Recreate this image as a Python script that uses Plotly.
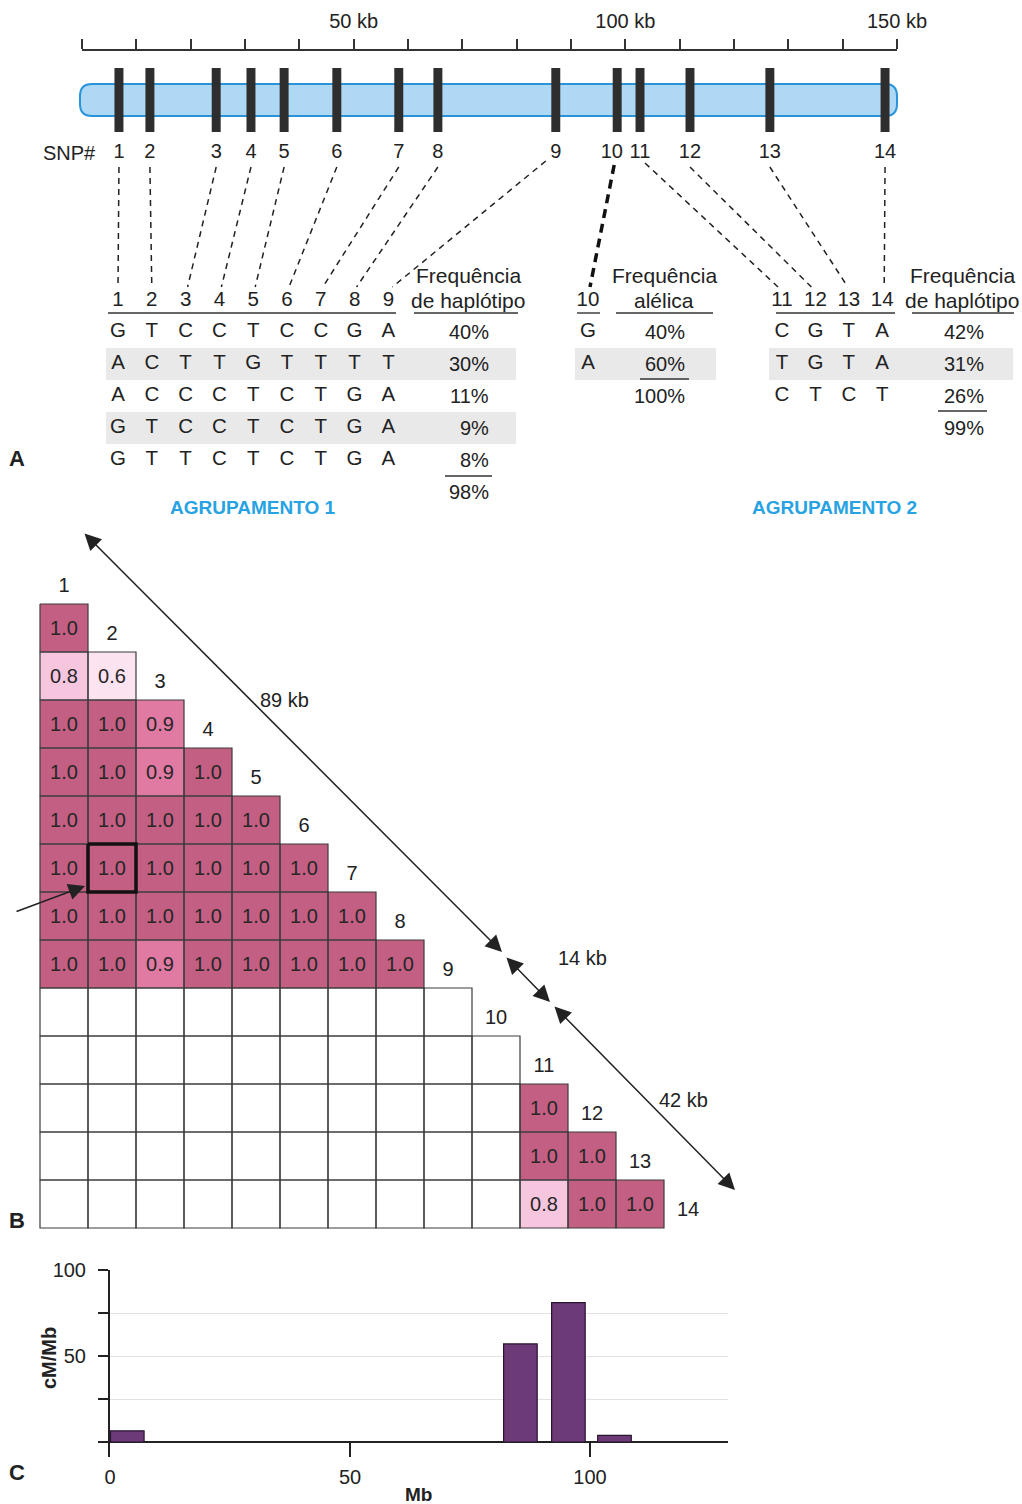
import plotly.graph_objects as go

W, H = 1022, 1504
FONT = "Liberation Sans, Arial, Helvetica, sans-serif"
TXT = "#222222"

# ---------------- data ----------------
snp_ids = list(range(1, 15))
snp_kb = [6.8, 12.5, 24.7, 31.1, 37.2, 46.9, 58.3, 65.5, 87.2, 98.5, 102.7, 111.9, 126.6, 147.8]
scale_ticks_kb = list(range(0, 151, 10))
scale_labels = {50: "50 kb", 100: "100 kb", 150: "150 kb"}

block1_snps = [1, 2, 3, 4, 5, 6, 7, 8, 9]
block1_haplotypes = ["GTCCTCCGA", "ACTTGTTTT", "ACCCTCTGA", "GTCCTCTGA", "GTTCTCTGA"]
block1_freqs = ["40%", "30%", "11%", "9%", "8%"]
block1_total = "98%"

snp10_alleles = ["G", "A"]
snp10_freqs = ["40%", "60%"]
snp10_total = "100%"

block2_snps = [11, 12, 13, 14]
block2_haplotypes = ["CGTA", "TGTA", "CTCT"]
block2_freqs = ["42%", "31%", "26%"]
block2_total = "99%"

# LD (D') values: row for SNP j = 2..14, columns SNP 1..j-1 (None = not shown)
ld_values = [
    [1.0],
    [0.8, 0.6],
    [1.0, 1.0, 0.9],
    [1.0, 1.0, 0.9, 1.0],
    [1.0, 1.0, 1.0, 1.0, 1.0],
    [1.0, 1.0, 1.0, 1.0, 1.0, 1.0],
    [1.0, 1.0, 1.0, 1.0, 1.0, 1.0, 1.0],
    [1.0, 1.0, 0.9, 1.0, 1.0, 1.0, 1.0, 1.0],
    [None] * 9,
    [None] * 10,
    [None] * 10 + [1.0],
    [None] * 10 + [1.0, 1.0],
    [None] * 10 + [0.8, 1.0, 1.0],
]
highlight_cell = (2, 7)
span_labels = ["89 kb", "14 kb", "42 kb"]

rec_mb = [3.6, 85.5, 95.5, 105.1]
rec_cm_mb = [6.5, 57, 81, 3.8]
rec_ticks_x = [0, 50, 100]
rec_ticks_y = [0, 25, 50, 75, 100]
rec_ticklabels_y = ["", "", "50", "", "100"]

# ---------------- helpers ----------------
def kb_px(k):
    return 82 + k * 815 / 150


fig = go.Figure()
annots = []


def txt(x, y, s, size=20, color=TXT, bold=False, xanchor="center", angle=0):
    annots.append(dict(x=x, y=y, xref="x", yref="y", text=("<b>%s</b>" % s) if bold else s,
                       showarrow=False, xanchor=xanchor, yanchor="middle", textangle=angle,
                       font=dict(size=size, color=color, family=FONT)))


ulx, uly = [], []


def uline(x0, x1, y):
    ulx.extend([x0, x1, None])
    uly.extend([y, y, None])


shapes = []
# grey bands
for (x0, x1, y0, y1) in [(106, 516, 348, 380), (106, 516, 412, 444), (575, 716, 348, 380), (769, 1013, 348, 380)]:
    shapes.append(dict(type="rect", xref="x", yref="y", x0=x0, x1=x1, y0=y0, y1=y1,
                       fillcolor="#e9e9e9", line=dict(width=0), layer="below"))

# chromosome
cx0, cx1, cy0, cy1, r = kb_px(0) - 2, kb_px(150), 84, 116, 12
path = (f"M {cx0+r},{cy0} L {cx1-r},{cy0} Q {cx1},{cy0} {cx1},{cy0+r} L {cx1},{cy1-r} "
        f"Q {cx1},{cy1} {cx1-r},{cy1} L {cx0+r},{cy1} Q {cx0},{cy1} {cx0},{cy1-r} "
        f"L {cx0},{cy0+r} Q {cx0},{cy0} {cx0+r},{cy0} Z")
shapes.append(dict(type="path", xref="x", yref="y", path=path, fillcolor="#aed8f4",
                   line=dict(color="#2a94db", width=2), layer="below"))

# pixel-axis dummy trace so the xy subplot exists
fig.add_trace(go.Scatter(x=[0, W], y=[0, H], mode="markers", marker=dict(opacity=0),
                         hoverinfo="skip", showlegend=False, xaxis="x", yaxis="y"))

# SNP bars on the kb axis
fig.add_trace(go.Bar(x=snp_kb, y=[64] * len(snp_kb), base=[68] * len(snp_kb), width=1.65,
                     marker=dict(color="#2e2e2e", line=dict(width=0)), showlegend=False,
                     hoverinfo="skip", xaxis="x2", yaxis="y"))
label_kb = [k - (1.0 if s == 10 else 0) for s, k in zip(snp_ids, snp_kb)]
fig.add_trace(go.Scatter(x=label_kb, y=[153] * len(snp_kb), mode="text", text=[str(i) for i in snp_ids],
                         textfont=dict(size=20, color=TXT, family=FONT), showlegend=False,
                         hoverinfo="skip", xaxis="x2", yaxis="y", cliponaxis=False))
txt(98, 153, "SNP#", xanchor="right")

# ---------- block 1 table ----------
b1_x = [118 + 33.8 * i for i in range(len(block1_snps))]
row_y = [332, 364, 396, 428, 460]
hx, hy, ht = [], [], []
for i, s in enumerate(block1_snps):
    hx.append(b1_x[i]); hy.append(301); ht.append(str(s))
for r, hap in enumerate(block1_haplotypes):
    for i, ch in enumerate(hap):
        hx.append(b1_x[i]); hy.append(row_y[r]); ht.append(ch)
# snp 10
hx.append(588); hy.append(301); ht.append("10")
for r, a in enumerate(snp10_alleles):
    hx.append(588); hy.append(row_y[r]); ht.append(a)
# block 2
b2_x = [782 + 33.4 * i for i in range(len(block2_snps))]
for i, s in enumerate(block2_snps):
    hx.append(b2_x[i]); hy.append(301); ht.append(str(s))
for r, hap in enumerate(block2_haplotypes):
    for i, ch in enumerate(hap):
        hx.append(b2_x[i]); hy.append(row_y[r]); ht.append(ch)
fig.add_trace(go.Scatter(x=hx, y=hy, mode="text", text=ht, textfont=dict(size=20.5, color=TXT, family=FONT),
                         showlegend=False, hoverinfo="skip", xaxis="x", yaxis="y"))

# frequency columns
txt(468, 275, "Frequência", size=21); txt(468, 300, "de haplótipo", size=21)
for r, f in enumerate(block1_freqs):
    txt(491, row_y[r], f, xanchor="right")
txt(491, 492, block1_total, xanchor="right")
uline(108, 396, 313); uline(414, 518, 313); uline(445, 492, 476)

txt(664, 275, "Frequência", size=21); txt(664, 300, "alélica", size=21)
for r, f in enumerate(snp10_freqs):
    txt(687, row_y[r], f, xanchor="right")
txt(687, 396, snp10_total, xanchor="right")
uline(577, 600, 313); uline(616, 713, 313); uline(640, 689, 379)

txt(962, 275, "Frequência", size=21); txt(962, 300, "de haplótipo", size=21)
for r, f in enumerate(block2_freqs):
    txt(986, row_y[r], f, xanchor="right")
txt(986, 428, block2_total, xanchor="right")
uline(776, 895, 313); uline(912, 1014, 313); uline(938, 987, 411)

fig.add_trace(go.Scatter(x=ulx, y=uly, mode="lines", line=dict(color="#333", width=1.4),
                         showlegend=False, hoverinfo="skip", xaxis="x", yaxis="y"))

# dashed connectors
end_x = {}
for i, s in enumerate(block1_snps):
    end_x[s] = b1_x[i] + (0 if s <= 2 else (4 if s == 9 else 2))
for i, s in enumerate(block2_snps):
    end_x[s] = b2_x[i] + [-4, -4, -1, 2][i]
dx, dy = [], []
for s, k in zip(snp_ids, snp_kb):
    if s == 10:
        continue
    x0 = kb_px(k)
    y0 = 167
    if s == 9:
        x0 -= 10; y0 = 161
    if s == 11:
        x0 += 5; y0 = 163
    dx.extend([x0, end_x[s], None]); dy.extend([y0, 287, None])
fig.add_trace(go.Scatter(x=dx, y=dy, mode="lines", line=dict(color="#222", width=1.5, dash="6px,5px"),
                         showlegend=False, hoverinfo="skip", xaxis="x", yaxis="y"))
fig.add_trace(go.Scatter(x=[kb_px(snp_kb[9]) - 3, 590], y=[165, 287], mode="lines",
                         line=dict(color="#111", width=3.5, dash="9px,6px"),
                         showlegend=False, hoverinfo="skip", xaxis="x", yaxis="y"))

txt(17, 458, "A", size=22, bold=True)
txt(252, 507, "AGRUPAMENTO 1", size=19, color="#27a2e3", bold=True)
txt(834, 507, "AGRUPAMENTO 2", size=19, color="#27a2e3", bold=True)

# ---------- panel B heatmap ----------
n = len(snp_ids)
z = [[None] * n for _ in range(n)]
tx = [[""] * n for _ in range(n)]
for jrow, vals in enumerate(ld_values):
    j = jrow + 2
    for c, v in enumerate(vals):
        z[j - 1][c] = v
        tx[j - 1][c] = "" if v is None else "%.1f" % v
fig.add_trace(go.Heatmap(x=snp_ids, y=snp_ids, z=z, text=tx, texttemplate="%{text}",
                         textfont=dict(size=20, color="#262626", family=FONT),
                         zmin=0.6, zmax=1.0, showscale=False, hoverinfo="skip",
                         colorscale=[[0, "#fbe3ef"], [0.5, "#f6c6df"], [0.75, "#e07aa3"], [1, "#c35f83"]],
                         xaxis="x3", yaxis="y3"))
gx, gy = [], []
for jrow, vals in enumerate(ld_values):
    j = jrow + 2
    for c in range(1, len(vals) + 1):
        gx.extend([c - .5, c + .5, c + .5, c - .5, c - .5, None])
        gy.extend([j - .5, j - .5, j + .5, j + .5, j - .5, None])
fig.add_trace(go.Scatter(x=gx, y=gy, mode="lines", line=dict(color="#3c3c3c", width=1.2),
                         showlegend=False, hoverinfo="skip", xaxis="x3", yaxis="y3"))
hc, hj = highlight_cell
fig.add_trace(go.Scatter(x=[hc - .5, hc + .5, hc + .5, hc - .5, hc - .5],
                         y=[hj - .5, hj - .5, hj + .5, hj + .5, hj - .5], mode="lines",
                         line=dict(color="#111", width=3.5), showlegend=False, hoverinfo="skip",
                         xaxis="x3", yaxis="y3"))
fig.add_trace(go.Scatter(x=snp_ids, y=[k + 0.15 for k in snp_ids], mode="text", text=[str(k) for k in snp_ids],
                         textfont=dict(size=20, color=TXT, family=FONT), showlegend=False,
                         hoverinfo="skip", xaxis="x3", yaxis="y3"))

# span arrows
for (x0, y0, x1, y1) in [(83, 532, 502, 952), (505, 956, 550, 1002), (553, 1005, 735, 1190)]:
    annots.append(dict(x=x1, y=y1, ax=x0, ay=y0, xref="x", yref="y", axref="x", ayref="y", text="",
                       showarrow=True, arrowhead=2, arrowside="end+start", arrowsize=2.2, arrowwidth=1.5,
                       arrowcolor="#222", standoff=0, startstandoff=0))
txt(284, 700, span_labels[0]); txt(556, 958, span_labels[1], xanchor="left"); txt(683, 1100, span_labels[2])
annots.append(dict(x=85, y=886, ax=15, ay=912, xref="x", yref="y", axref="x", ayref="y", text="",
                   showarrow=True, arrowhead=2, arrowsize=2.2, arrowwidth=1.5, arrowcolor="#222", standoff=0))
txt(17, 1220, "B", size=22, bold=True)

# ---------- panel C bars ----------
fig.add_trace(go.Bar(x=rec_mb, y=rec_cm_mb, width=7, marker=dict(color="#6c3a77", line=dict(color="#2a1430", width=1.2)),
                     showlegend=False, hoverinfo="skip", xaxis="x4", yaxis="y4"))
txt(49, 1358, "cM/Mb", size=20, bold=True, angle=-90)
txt(418, 1494, "Mb", size=19, bold=True)
txt(17, 1472, "C", size=22, bold=True)

hidden = dict(visible=False, fixedrange=True, automargin=False)
fig.update_layout(
    width=W, height=H, margin=dict(l=0, r=0, t=0, b=0, pad=0, autoexpand=False),
    paper_bgcolor="white", plot_bgcolor="rgba(0,0,0,0)", showlegend=False,
    font=dict(family=FONT, color=TXT),
    shapes=shapes, annotations=annots,
    xaxis=dict(range=[0, W], domain=[0, 1], **hidden),
    yaxis=dict(range=[H, 0], domain=[0, 1], **hidden),
    xaxis2=dict(domain=[82 / W, 897 / W], range=[0, 150], anchor="free", position=1 - 50 / H, side="top",
                tickmode="array", tickvals=scale_ticks_kb,
                ticktext=[scale_labels.get(t, "") for t in scale_ticks_kb],
                ticks="outside", ticklen=10, tickwidth=1.5, tickcolor="#333",
                showline=True, linecolor="#333", linewidth=1.5, showgrid=False, zeroline=False,
                tickfont=dict(size=20, color=TXT, family=FONT), ticklabelstandoff=3,
                fixedrange=True, automargin=False),
    xaxis3=dict(domain=[0, 1], range=[-16 / 48, (W - 16) / 48], anchor="y3", **hidden),
    yaxis3=dict(domain=[0, 1], range=[(H - 532) / 48, -532 / 48], anchor="x3", **hidden),
    xaxis4=dict(domain=[110 / W, 728 / W], range=[0, 618 / 4.8], anchor="y4",
                tickmode="array", tickvals=rec_ticks_x, ticks="inside", ticklen=16, tickwidth=2,
                tickcolor="#222", showline=False, showgrid=False, zeroline=False,
                tickfont=dict(size=20, color=TXT, family=FONT), ticklabelstandoff=6,
                fixedrange=True, automargin=False),
    yaxis4=dict(domain=[1 - 1457 / H, 1 - 1270 / H], range=[-(1457 - 1442) / 1.72, 100], anchor="x4",
                tickmode="array", tickvals=rec_ticks_y, ticktext=rec_ticklabels_y,
                ticks="outside", ticklen=10, tickwidth=1.5, tickcolor="#222",
                showline=True, linecolor="#222", linewidth=2, showgrid=True, gridcolor="#e2e2e2",
                zeroline=True, zerolinecolor="#222", zerolinewidth=2,
                tickfont=dict(size=20, color=TXT, family=FONT), ticklabelstandoff=8,
                fixedrange=True, automargin=False),
)
fig.write_html("out.html", config={"displayModeBar": False},
               post_script="document.body.style.margin='0';document.body.style.overflow='hidden';")
